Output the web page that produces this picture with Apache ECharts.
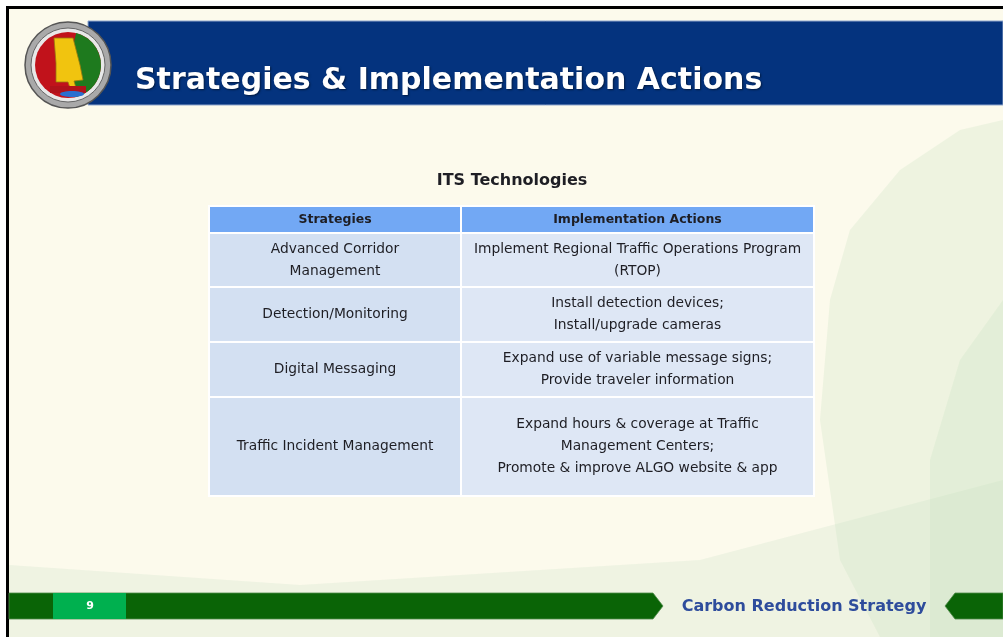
<!DOCTYPE html>
<html>
<head>
<meta charset="utf-8">
<script src="https://cdn.jsdelivr.net/npm/echarts@6/dist/echarts.min.js"></script>
<style>html,body{margin:0;padding:0;background:#fff;}#c{width:1003px;height:637px;}</style>
</head>
<body>
<div id="c"></div>
<script>
// ---- data ----
const slideTitle = 'Strategies & Implementation Actions';
const tableTitle = 'ITS Technologies';
const headers = ['Strategies', 'Implementation Actions'];
const strategies = [
  'Advanced Corridor\nManagement',
  'Detection/Monitoring',
  'Digital Messaging',
  'Traffic Incident Management'
];
const actions = [
  'Implement Regional Traffic Operations Program\n(RTOP)',
  'Install detection devices;\nInstall/upgrade cameras',
  'Expand use of variable message signs;\nProvide traveler information',
  'Expand hours & coverage at Traffic\nManagement Centers;\nPromote & improve ALGO website & app'
];
const footerText = 'Carbon Reduction Strategy';
const pageNumber = '9';

// ---- layout (not data) ----
const colWidths = [252, 353];
const rowHeights = [27, 54, 55, 55, 99];
const FONT = 'DejaVu Sans';

const colStart = [0]; colWidths.forEach((w, i) => colStart.push(colStart[i] + w));
const rowStart = [0]; rowHeights.forEach((h, i) => rowStart.push(rowStart[i] + h));

const cells = [];
headers.forEach((h, c) => cells.push([c, 0, h]));
strategies.forEach((s, r) => cells.push([0, r + 1, s]));
actions.forEach((a, r) => cells.push([1, r + 1, a]));

const chart = echarts.init(document.getElementById('c'), null, {renderer: 'canvas'});

function renderCell(params, api) {
  const c = api.value(0), r = api.value(1);
  const p0 = api.coord([colStart[c], rowStart[r]]);
  const p1 = api.coord([colStart[c + 1], rowStart[r + 1]]);
  const x = p0[0], y = p0[1], w = p1[0] - p0[0], h = p1[1] - p0[1];
  const isHead = r === 0;
  const fill = isHead ? '#72a8f4' : (c === 0 ? '#d3e0f2' : '#dee7f5');
  const text = cells[params.dataIndex][2];
  return {
    type: 'group',
    children: [
      {type: 'rect', shape: {x: x, y: y, width: w, height: h},
       style: {fill: fill, stroke: '#ffffff', lineWidth: 2}},
      {type: 'text', x: x + w / 2, y: y + h / 2,
       style: {text: text, align: 'center', verticalAlign: 'middle',
         font: (isHead ? 'bold 12.5px "' : '13.8px "') + FONT + '"',
         lineHeight: 22, fill: '#1e1e24'}}
    ]
  };
}

// Alabama-ish shape (decoration), relative to logo center
const alabama = [[-14,-25],[5,-25],[12,2],[15,17],[6,18],[8,25],[2,25],[0,19],[-12,19],[-12,0]];

const option = {
  animation: false,
  backgroundColor: '#ffffff',
  grid: {left: 209, top: 206, width: 605, height: 290, show: false},
  xAxis: {type: 'value', min: 0, max: colStart[colStart.length - 1], show: false},
  yAxis: {type: 'value', min: 0, max: rowStart[rowStart.length - 1], inverse: true, show: false},
  series: [{
    type: 'custom',
    renderItem: renderCell,
    data: cells.map(d => [d[0], d[1]]),
    silent: true,
    z: 10
  }],
  graphic: [
    // slide background
    {type: 'rect', z: -10, shape: {x: 6, y: 6, width: 997, height: 631}, style: {fill: '#000'}},
    {type: 'rect', z: -9, shape: {x: 9, y: 9, width: 994, height: 628}, style: {fill: '#fcfaec'}},
    // subtle green swooshes
    {type: 'polygon', z: -8, shape: {points: [[9,637],[9,565],[300,585],[700,560],[1003,480],[1003,637]]},
     style: {fill: 'rgba(205,225,200,0.28)'}},
    {type: 'polygon', z: -8, shape: {points: [[1003,120],[960,130],[900,170],[850,230],[830,300],[820,420],[840,560],[880,637],[1003,637]]},
     style: {fill: 'rgba(200,228,195,0.28)'}},
    {type: 'polygon', z: -8, shape: {points: [[1003,300],[960,360],[930,460],[930,637],[1003,637]]},
     style: {fill: 'rgba(190,222,185,0.22)'}},
    // banner
    {type: 'rect', z: 1, shape: {x: 88, y: 21, width: 915, height: 84}, style: {fill: '#04337e', stroke: '#8fa6cc', lineWidth: 1}},
    {type: 'text', z: 2, x: 135, y: 81,
     style: {text: slideTitle, font: 'bold 30px "' + FONT + '"', fill: '#ffffff', verticalAlign: 'middle',
       textShadowColor: 'rgba(0,0,0,0.5)', textShadowBlur: 2, textShadowOffsetX: 1, textShadowOffsetY: 1}},
    // logo
    {type: 'circle', z: 3, shape: {cx: 68, cy: 65, r: 43}, style: {fill: '#a9a9a9', stroke: '#555', lineWidth: 1.5}},
    {type: 'circle', z: 3, shape: {cx: 68, cy: 65, r: 37}, style: {fill: '#e8e8e8', stroke: '#666', lineWidth: 1}},
    {type: 'circle', z: 3, shape: {cx: 68, cy: 65, r: 33}, style: {fill: '#c1121b'}},
    {type: 'sector', z: 3, shape: {cx: 68, cy: 65, r: 33, r0: 0, startAngle: -Math.PI * 0.42, endAngle: Math.PI * 0.42}, style: {fill: '#1e7a1e'}},
    {type: 'polygon', z: 4, shape: {points: alabama.map(p => [68 + p[0], 63 + p[1]])}, style: {fill: '#f1c40f', stroke: '#9a7a10', lineWidth: 0.8}},
    {type: 'rect', z: 4, shape: {x: 50, y: 86, width: 36, height: 7}, style: {fill: '#b0121b'}},
    {type: 'ellipse', z: 4, shape: {cx: 72, cy: 94, rx: 12, ry: 3}, style: {fill: '#2a6fd0'}},
    // table title
    {type: 'text', z: 5, x: 512, y: 181,
     style: {text: tableTitle, font: 'bold 16px "' + FONT + '"', fill: '#1e1e24', align: 'center', verticalAlign: 'middle'}},
    // footer bars
    {type: 'polygon', z: 5, shape: {points: [[9,593],[653,593],[663,606],[653,619],[9,619]]},
     style: {fill: '#0a6406', stroke: '#4f8c4a', lineWidth: 0.8}},
    {type: 'rect', z: 6, shape: {x: 53, y: 593, width: 73, height: 26}, style: {fill: '#00b04f'}},
    {type: 'text', z: 7, x: 90, y: 606,
     style: {text: pageNumber, font: 'bold 11px "' + FONT + '"', fill: '#ffffff', align: 'center', verticalAlign: 'middle'}},
    {type: 'polygon', z: 5, shape: {points: [[1003,593],[955,593],[945,606],[955,619],[1003,619]]},
     style: {fill: '#0a6406', stroke: '#4f8c4a', lineWidth: 0.8}},
    {type: 'text', z: 7, x: 804, y: 607,
     style: {text: footerText, font: 'bold 16px "' + FONT + '"', fill: '#2e4c9c', align: 'center', verticalAlign: 'middle'}}
  ]
};
chart.setOption(option);
</script>
</body>
</html>
